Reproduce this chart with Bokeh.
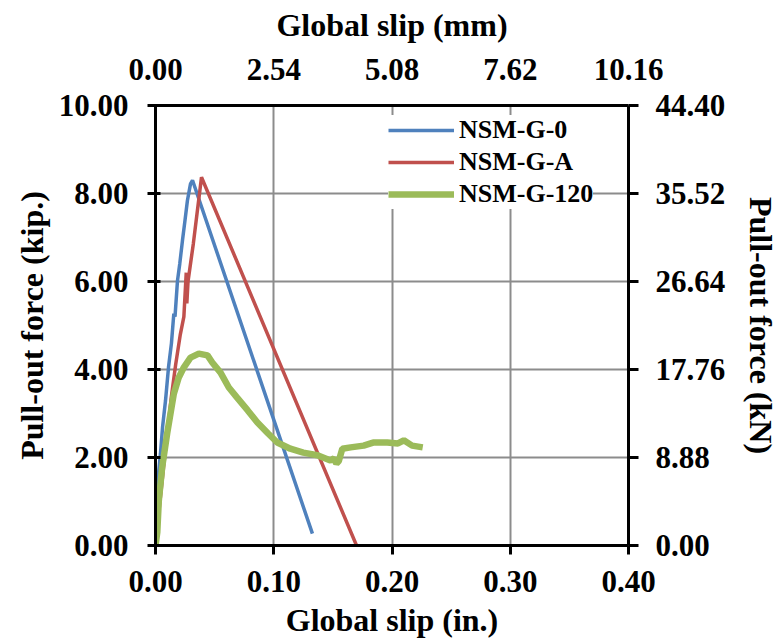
from bokeh.plotting import figure
from bokeh.models import (Range1d, LinearAxis, FixedTicker, PrintfTickFormatter,
                          Legend, LegendItem)
from bokeh.embed import file_html
from bokeh.resources import INLINE

# ---------------- data (slip in inches, force in kip) ----------------
g0_x = [0.000, 0.0015, 0.002, 0.0042, 0.006, 0.0085, 0.011, 0.0135, 0.0155, 0.0165,
        0.0186, 0.0205, 0.0228, 0.025, 0.027, 0.0296, 0.0313, 0.1327]
g0_y = [0.00, 0.60, 1.48, 2.09, 2.70, 3.30, 4.05, 4.60, 5.27, 5.20,
        6.02, 6.40, 6.93, 7.40, 7.84, 8.22, 8.30, 0.27]

ga_x = [0.000, 0.003, 0.0065, 0.0099, 0.0135, 0.017, 0.021, 0.024, 0.026, 0.0265,
        0.0275, 0.032, 0.0389, 0.1700]
ga_y = [0.00, 0.80, 1.70, 2.55, 3.40, 4.10, 4.80, 5.20, 6.20, 5.50,
        6.00, 6.86, 8.37, 0.00]

g120_x = [0.000, 0.0015, 0.0028, 0.0056, 0.0099, 0.0155, 0.0197, 0.024, 0.0296, 0.0366,
          0.044, 0.048, 0.055, 0.062, 0.069, 0.078, 0.086, 0.095, 0.103, 0.114,
          0.125, 0.137, 0.148, 0.151, 0.153, 0.155, 0.158, 0.165, 0.176, 0.184,
          0.196, 0.205, 0.210, 0.217, 0.226]
g120_y = [0.00, 0.30, 1.02, 1.77, 2.55, 3.45, 3.82, 4.05, 4.27, 4.36,
          4.32, 4.16, 3.93, 3.59, 3.36, 3.07, 2.80, 2.55, 2.34, 2.20,
          2.11, 2.05, 1.93, 1.98, 1.86, 1.92, 2.20, 2.23, 2.27, 2.34,
          2.34, 2.32, 2.39, 2.27, 2.23]

series_names = ["NSM-G-0", "NSM-G-A", "NSM-G-120"]
series_colors = ["#4F81BD", "#C0504D", "#9BBB59"]

x_in_ticks = [0.0, 0.1, 0.2, 0.3, 0.4]
x_mm_ticks = [0.0, 2.54, 5.08, 7.62, 10.16]
y_kip_ticks = [0.0, 2.0, 4.0, 6.0, 8.0, 10.0]
y_kn_ticks = [0.0, 8.88, 17.76, 26.64, 35.52, 44.40]

FONT = "Liberation Serif"

p = figure(frame_width=473, frame_height=440,
           x_range=Range1d(0, 0.4), y_range=Range1d(0, 10),
           output_backend="svg", toolbar_location=None,
           min_border_left=155, min_border_right=151,
           min_border_top=105, min_border_bottom=92,
           x_axis_label="Global slip (in.)", y_axis_label="Pull-out force (kip.)")
p.outline_line_color = None
p.background_fill_color = "white"

p.extra_x_ranges = {"mm": Range1d(0, 10.16)}
p.extra_y_ranges = {"kN": Range1d(0, 44.40)}
p.add_layout(LinearAxis(x_range_name="mm", axis_label="Global slip (mm)"), "above")
p.add_layout(LinearAxis(y_range_name="kN", axis_label="Pull-out force (kN)"), "right")

p.xgrid.ticker = FixedTicker(ticks=x_in_ticks)
p.ygrid.ticker = FixedTicker(ticks=y_kip_ticks)
for g in (p.xgrid, p.ygrid):
    g.grid_line_color = "#8c8c8c"
    g.grid_line_width = 2

for ax in p.axis:
    ax.axis_line_width = 3
    ax.axis_line_color = "black"
    ax.major_tick_line_width = 3
    ax.major_tick_line_color = "black"
    ax.minor_tick_line_color = None
    ax.major_label_text_font = FONT
    ax.major_label_text_font_style = "bold"
    ax.major_label_text_font_size = "31px"
    ax.major_label_text_color = "black"
    ax.axis_label_text_font = FONT
    ax.axis_label_text_font_style = "bold"
    ax.axis_label_text_font_size = "32px"
    ax.axis_label_text_color = "black"
    ax.formatter = PrintfTickFormatter(format="%.2f")

bottom = p.below[0]
bottom.ticker = FixedTicker(ticks=x_in_ticks)
bottom.major_tick_out = 9
bottom.major_tick_in = 0
bottom.major_label_standoff = 16
bottom.axis_label_standoff = 7

top = p.above[0]
top.ticker = FixedTicker(ticks=x_mm_ticks)
top.major_tick_out = 0
top.major_tick_in = 0
top.major_label_standoff = 26
top.axis_label_standoff = 13

left = p.left[0]
left.ticker = FixedTicker(ticks=y_kip_ticks)
left.major_tick_out = 8
left.major_tick_in = 5
left.major_label_standoff = 19
left.axis_label_standoff = 6

right = p.right[0]
right.ticker = FixedTicker(ticks=y_kn_ticks)
right.major_tick_out = 10
right.major_tick_in = 0
right.major_label_standoff = 17
right.axis_label_standoff = 15

r0 = p.line(g0_x, g0_y, line_color=series_colors[0], line_width=3.5)
ra = p.line(ga_x, ga_y, line_color=series_colors[1], line_width=3.5)
r120 = p.line(g120_x, g120_y, line_color=series_colors[2], line_width=6.5)

legend = Legend(items=[LegendItem(label=series_names[0], renderers=[r0]),
                       LegendItem(label=series_names[1], renderers=[ra]),
                       LegendItem(label=series_names[2], renderers=[r120])],
                location=(233, 336))
legend.background_fill_color = "white"
legend.background_fill_alpha = 1.0
legend.border_line_color = None
legend.label_text_font = FONT
legend.label_text_font_style = "bold"
legend.label_text_font_size = "26px"
legend.label_text_color = "black"
legend.glyph_width = 66
legend.glyph_height = 28
legend.label_height = 28
legend.spacing = 2
legend.padding = 4
legend.margin = 0
legend.label_standoff = 5
p.add_layout(legend)

open("out.html", "w").write(file_html(p, INLINE))
